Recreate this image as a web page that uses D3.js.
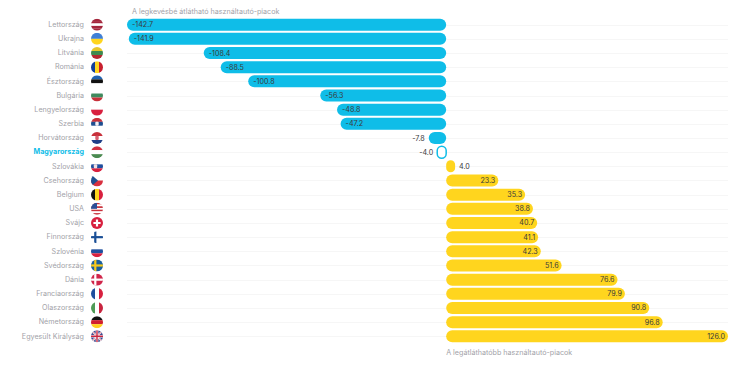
<!DOCTYPE html>
<html lang="en">
    <head>
        <meta charset="utf-8">
        <title>Használtautó-piacok</title>
        <script type="text/javascript" src="https://d3js.org/d3.v7.min.js"></script>
        <style type="text/css">
        body { margin: 0; background: #fff; }
        text { font-family: Inter, sans-serif; }
        .axis text { font-size: 7.15px; fill: #a2a2a8; }
        .axis .highlight { fill: #0fbde8; font-weight: 700; }
        .grid line { stroke: #f6f6f6; shape-rendering: crispEdges; }
        .value { font-size: 7.15px; fill: #3a3a3a; }
        .note { font-size: 7.15px; fill: #a2a2a8; }
        </style>
    </head>
    <body>
        <script>
                var w = 744;
                var h = 366;

                var countries = ["Lettország", "Ukrajna", "Litvánia", "Románia", "Észtország", "Bulgária", "Lengyelország", "Szerbia", "Horvátország", "Magyarország", "Szlovákia", "Csehország", "Belgium", "USA", "Svájc", "Finnország", "Szlovénia", "Svédország", "Dánia", "Franciaország", "Olaszország", "Németország", "Egyesült Királyság"];

                // bar lengths as drawn
                var barValues = [-142.7, -141.9, -108.4, -100.8, -88.5, -56.3, -48.8, -47.2, -7.8, -4.0, 4.0, 23.3, 35.3, 38.8, 40.7, 41.1, 42.3, 51.6, 76.6, 79.9, 90.8, 96.8, 126.0];

                // printed labels: Románia and Észtország are crossed over in the original
                var barLabels = ["-142.7", "-141.9", "-108.4", "-88.5", "-100.8", "-56.3", "-48.8", "-47.2", "-7.8", "-4.0", "4.0", "23.3", "35.3", "38.8", "40.7", "41.1", "42.3", "51.6", "76.6", "79.9", "90.8", "96.8", "126.0"];

                var highlighted = "Magyarország";
                var noteTop = "A legkevésbé átlátható használtautó-piacok";
                var noteBottom = "A legátláthatóbb használtautó-piacok";

                var xScale = d3.scaleLinear().domain([-142.7, 126]).range([127, 728]);

                var yScale = d3.scaleBand()
                  .domain(countries)
                  .range([17.6, 343.4])
                  .paddingInner(0.15)
                  .paddingOuter(0.075);

                var svg = d3.select("body")
                  .append("svg")
                  .attr("width", w)
                  .attr("height", h);

                // faint row lines
                svg.append("g")
                  .attr("class", "grid")
                  .selectAll("line")
                  .data(countries)
                  .enter().append("line")
                  .attr("x1", xScale.range()[0])
                  .attr("x2", xScale.range()[1])
                  .attr("y1", function (d) { return Math.round(yScale(d) + yScale.bandwidth() / 2); })
                  .attr("y2", function (d) { return Math.round(yScale(d) + yScale.bandwidth() / 2); });

                // country names
                var yAxis = svg.append("g")
                  .attr("class", "axis")
                  .attr("transform", "translate(84,0)")
                  .call(d3.axisLeft(yScale).tickSize(0).tickPadding(0));
                yAxis.select(".domain").remove();
                yAxis.selectAll("text")
                  .classed("highlight", function (d) { return d === highlighted; });

                // bars
                var x0 = xScale(0);
                svg.append("g")
                  .selectAll("rect")
                  .data(barValues)
                  .enter().append("rect")
                  .attr("x", function (d) { return Math.min(xScale(d), x0); })
                  .attr("y", function (d, i) { return yScale(countries[i]); })
                  .attr("width", function (d) { return Math.abs(xScale(d) - x0); })
                  .attr("height", yScale.bandwidth())
                  .attr("rx", function (d) { return Math.min(yScale.bandwidth() / 2, Math.abs(xScale(d) - x0) / 2); })
                  .attr("fill", function (d, i) {
                      if (countries[i] === highlighted) return "#fff";
                      return d < 0 ? "#0fbde8" : "#ffd51e";
                  })
                  .attr("stroke", function (d, i) { return countries[i] === highlighted ? "#0fbde8" : "none"; })
                  .attr("stroke-width", 1.5);

                // values
                svg.append("g")
                  .selectAll("text")
                  .data(barValues)
                  .enter().append("text")
                  .attr("class", "value")
                  .attr("dy", "0.35em")
                  .attr("y", function (d, i) { return yScale(countries[i]) + yScale.bandwidth() / 2; })
                  .attr("x", function (d) {
                      var small = Math.abs(d) < 10;
                      if (d < 0) return small ? xScale(d) - 4 : xScale(d) + 5;
                      return small ? xScale(d) + 4 : xScale(d) - 3;
                  })
                  .attr("text-anchor", function (d) {
                      var small = Math.abs(d) < 10;
                      return (d < 0) === small ? "end" : "start";
                  })
                  .text(function (d, i) { return barLabels[i]; });

                svg.append("text")
                  .attr("class", "note")
                  .attr("x", xScale.range()[0] + 5)
                  .attr("y", 14)
                  .text(noteTop);

                svg.append("text")
                  .attr("class", "note")
                  .attr("x", x0)
                  .attr("y", 355)
                  .text(noteBottom);

                // flags, drawn on a 12x12 box centred on the row
                var flagR = 6;
                function hStripes(g, cols) {
                    cols.forEach(function (c, i) {
                        g.append("rect").attr("x", -flagR).attr("width", 2 * flagR)
                          .attr("y", -flagR + 2 * flagR * i / cols.length)
                          .attr("height", 2 * flagR / cols.length).attr("fill", c);
                    });
                }
                function vStripes(g, cols) {
                    cols.forEach(function (c, i) {
                        g.append("rect").attr("y", -flagR).attr("height", 2 * flagR)
                          .attr("x", -flagR + 2 * flagR * i / cols.length)
                          .attr("width", 2 * flagR / cols.length).attr("fill", c);
                    });
                }
                function cross(g, bg, col) {
                    g.append("rect").attr("x", -flagR).attr("y", -flagR).attr("width", 12).attr("height", 12).attr("fill", bg);
                    g.append("rect").attr("x", -flagR).attr("y", -1.1).attr("width", 12).attr("height", 2.2).attr("fill", col);
                    g.append("rect").attr("x", -2.8).attr("y", -flagR).attr("width", 2.2).attr("height", 12).attr("fill", col);
                }
                function emblem(g, x, c) {
                    g.append("rect").attr("x", x - 1.7).attr("y", -2.2).attr("width", 3.4).attr("height", 4.2).attr("rx", 1).attr("fill", c);
                }
                var flagDraw = {
                    "Lettország": function (g) { hStripes(g, ["#a4263c", "#a4263c", "#fff", "#a4263c", "#a4263c"]); },
                    "Ukrajna": function (g) { hStripes(g, ["#3f7fd6", "#ffd51e"]); },
                    "Litvánia": function (g) { hStripes(g, ["#e8c62c", "#3f8a4e", "#b5262f"]); },
                    "Románia": function (g) { vStripes(g, ["#123f99", "#ffd51e", "#c8202f"]); },
                    "Észtország": function (g) { hStripes(g, ["#1f62b0", "#111", "#fff"]); },
                    "Bulgária": function (g) { hStripes(g, ["#fff", "#3f8a5e", "#c8303a"]); },
                    "Lengyelország": function (g) { hStripes(g, ["#fff", "#d8203f"]); },
                    "Szerbia": function (g) { hStripes(g, ["#c8303a", "#1f4f90", "#fff"]); emblem(g, 0, "#f4f0f4"); },
                    "Horvátország": function (g) { hStripes(g, ["#c8303a", "#fff", "#1f3f88"]); emblem(g, 0, "#d86070"); },
                    "Magyarország": function (g) { hStripes(g, ["#cf3040", "#fff", "#4a8a50"]); },
                    "Szlovákia": function (g) { hStripes(g, ["#fff", "#1f4f9e", "#d8203f"]); emblem(g, -1.5, "#f0e0e4"); },
                    "Csehország": function (g) {
                        hStripes(g, ["#fff", "#d8303f"]);
                        g.append("path").attr("d", "M-6,-6L1,0L-6,6Z").attr("fill", "#1f4f90");
                    },
                    "Belgium": function (g) { vStripes(g, ["#111", "#ffd51e", "#d8203f"]); },
                    "USA": function (g) {
                        hStripes(g, ["#c8303a", "#fff", "#c8303a", "#fff", "#c8303a", "#fff", "#c8303a"]);
                        g.append("rect").attr("x", -6).attr("y", -6).attr("width", 6).attr("height", 6).attr("fill", "#2a4f96");
                    },
                    "Svájc": function (g) {
                        g.append("rect").attr("x", -6).attr("y", -6).attr("width", 12).attr("height", 12).attr("fill", "#d8203f");
                        g.append("path").attr("d", "M-1.1,-3.6h2.2v2.5h2.5v2.2h-2.5v2.5h-2.2v-2.5h-2.5v-2.2h2.5Z").attr("fill", "#fff");
                    },
                    "Finnország": function (g) { cross(g, "#fff", "#1a4f96"); },
                    "Szlovénia": function (g) { hStripes(g, ["#fff", "#1f4f9e", "#d8203f"]); },
                    "Svédország": function (g) { cross(g, "#1a5f9e", "#f5c91e"); },
                    "Dánia": function (g) { cross(g, "#d0254a", "#fff"); },
                    "Franciaország": function (g) { vStripes(g, ["#1f4f9e", "#fff", "#d8203f"]); },
                    "Olaszország": function (g) { vStripes(g, ["#4f9a56", "#fff", "#c8253f"]); },
                    "Németország": function (g) { hStripes(g, ["#111", "#d0202f", "#ffcf1e"]); },
                    "Egyesült Királyság": function (g) {
                        g.append("rect").attr("x", -6).attr("y", -6).attr("width", 12).attr("height", 12).attr("fill", "#3a4a90");
                        g.append("path").attr("d", "M-6,-6L6,6M6,-6L-6,6").attr("stroke", "#fff").attr("stroke-width", 1.8);
                        g.append("path").attr("d", "M-6,-6L6,6M6,-6L-6,6").attr("stroke", "#c8253f").attr("stroke-width", 0.6);
                        g.append("path").attr("d", "M0,-6V6M-6,0H6").attr("stroke", "#fff").attr("stroke-width", 2.6);
                        g.append("path").attr("d", "M0,-6V6M-6,0H6").attr("stroke", "#c8253f").attr("stroke-width", 1.4);
                    }
                };

                svg.append("clipPath").attr("id", "flag-clip")
                  .append("circle").attr("r", flagR);

                svg.append("g")
                  .selectAll("g")
                  .data(countries)
                  .enter().append("g")
                  .attr("transform", function (d) { return "translate(97," + (yScale(d) + yScale.bandwidth() / 2) + ")"; })
                  .append("g")
                  .attr("clip-path", "url(#flag-clip)")
                  .each(function (d) { flagDraw[d](d3.select(this)); });
            </script>
    </body>
</html>
